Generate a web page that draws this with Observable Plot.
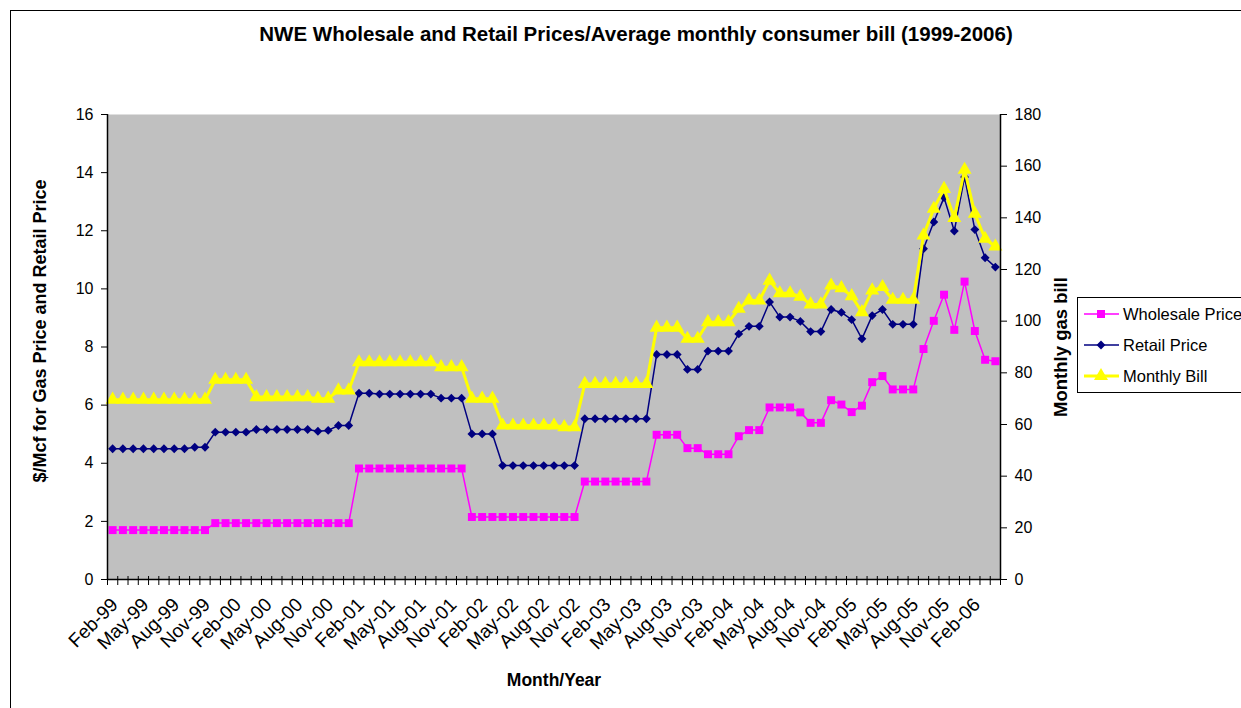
<!DOCTYPE html>
<html>
<head>
<meta charset="utf-8">
<script src="https://cdn.jsdelivr.net/npm/d3@7"></script>
<script src="https://cdn.jsdelivr.net/npm/@observablehq/plot@0.6"></script>
<style>
  html, body { margin: 0; padding: 0; background: #fff; overflow: hidden; }
  body { font-family: "Liberation Sans", Arial, sans-serif; width: 1241px; height: 708px; position: relative; }
  #box { position: absolute; left: 10px; top: 10px; width: 1300px; height: 760px; border: 1px solid #000; box-sizing: border-box; }
  #title { position: absolute; left: 0; top: 21px; width: 1272px; text-align: center; font-weight: bold; font-size: 20.5px; line-height: 26px; color: #000; white-space: nowrap; }
  #chart { position: absolute; left: 0; top: 60px; }
  #legend { position: absolute; left: 1077px; top: 297px; width: 300px; height: 96px; border: 1px solid #000; background: #fff; box-sizing: border-box; }
  .row { position: absolute; left: 5px; height: 20px; white-space: nowrap; }
  .row svg { position: absolute; left: 0; top: 0; }
  .row span { position: absolute; left: 40px; top: 0; font-size: 16.5px; line-height: 20px; color: #000; }
</style>
</head>
<body>
<div id="box"></div>
<div id="title"></div>
<div id="chart"></div>
<div id="legend"></div>
<script>
const chartTitle = "NWE Wholesale and Retail Prices/Average monthly consumer bill (1999-2006)";
const yLeftTitle = "$/Mcf for Gas Price and Retail Price";
const yRightTitle = "Monthly gas bill";
const xTitle = "Month/Year";
const seriesNames = ["Wholesale Price", "Retail Price", "Monthly Bill"];

const months = [
  "Feb-99","Mar-99","Apr-99","May-99","Jun-99","Jul-99","Aug-99","Sep-99","Oct-99","Nov-99","Dec-99",
  "Jan-00","Feb-00","Mar-00","Apr-00","May-00","Jun-00","Jul-00","Aug-00","Sep-00","Oct-00","Nov-00","Dec-00",
  "Jan-01","Feb-01","Mar-01","Apr-01","May-01","Jun-01","Jul-01","Aug-01","Sep-01","Oct-01","Nov-01","Dec-01",
  "Jan-02","Feb-02","Mar-02","Apr-02","May-02","Jun-02","Jul-02","Aug-02","Sep-02","Oct-02","Nov-02","Dec-02",
  "Jan-03","Feb-03","Mar-03","Apr-03","May-03","Jun-03","Jul-03","Aug-03","Sep-03","Oct-03","Nov-03","Dec-03",
  "Jan-04","Feb-04","Mar-04","Apr-04","May-04","Jun-04","Jul-04","Aug-04","Sep-04","Oct-04","Nov-04","Dec-04",
  "Jan-05","Feb-05","Mar-05","Apr-05","May-05","Jun-05","Jul-05","Aug-05","Sep-05","Oct-05","Nov-05","Dec-05",
  "Jan-06","Feb-06","Mar-06","Apr-06"
];

// $/Mcf
const wholesale = [
  1.70,1.70,1.70,1.70,1.70,1.70,1.70,1.70,1.70,1.70,
  1.94,1.94,1.94,1.94,1.94,1.94,1.94,1.94,1.94,1.94,1.94,1.94,1.94,1.94,
  3.82,3.82,3.82,3.82,3.82,3.82,3.82,3.82,3.82,3.82,3.82,
  2.15,2.15,2.15,2.15,2.15,2.15,2.15,2.15,2.15,2.15,2.15,
  3.37,3.37,3.37,3.37,3.37,3.37,3.37,
  4.98,4.98,4.98,4.52,4.52,4.31,4.31,4.31,4.93,5.14,5.14,
  5.92,5.92,5.92,5.75,5.39,5.39,6.17,6.02,5.76,5.98,6.79,7.00,
  6.54,6.54,6.54,7.93,8.90,9.80,8.59,10.25,8.55,7.56,7.51
];

// $/Mcf
const retail = [
  4.50,4.50,4.50,4.50,4.50,4.50,4.50,4.50,4.55,4.55,
  5.07,5.07,5.07,5.07,5.16,5.16,5.16,5.16,5.16,5.16,5.10,5.13,5.30,5.30,
  6.41,6.41,6.38,6.38,6.38,6.38,6.38,6.38,6.24,6.24,6.24,
  5.01,5.01,5.01,3.92,3.92,3.92,3.92,3.92,3.92,3.92,3.92,
  5.53,5.53,5.53,5.53,5.53,5.53,5.53,
  7.74,7.74,7.74,7.23,7.23,7.86,7.86,7.86,8.45,8.71,8.71,
  9.55,9.03,9.03,8.88,8.53,8.53,9.29,9.19,8.94,8.28,9.08,9.29,
  8.78,8.78,8.78,11.38,12.30,13.14,11.99,13.85,12.04,11.07,10.75
];

// $ per month (right axis)
const bill = [
  69.6,69.6,69.6,69.6,69.6,69.6,69.6,69.6,69.6,69.6,
  77.3,77.3,77.3,77.3,70.6,70.6,70.6,70.6,70.6,70.6,70.0,70.0,73.2,73.2,
  84.1,84.1,84.1,84.1,84.1,84.1,84.1,84.1,82.2,82.2,82.2,
  70.0,70.0,70.0,59.6,59.6,59.6,59.6,59.6,59.6,59.0,59.0,
  75.7,75.7,75.7,75.7,75.7,75.7,75.7,
  97.5,97.5,97.5,93.2,93.2,99.6,99.6,99.6,104.8,108.0,108.0,
  115.7,110.8,110.8,109.5,106.5,106.5,113.8,112.8,109.7,103.5,111.9,113.2,
  108.3,108.3,108.3,133.2,143.5,151.2,140.0,158.6,141.6,131.9,128.9
];

const leftTicks = [0, 2, 4, 6, 8, 10, 12, 14, 16];
const rightTicks = [0, 20, 40, 60, 80, 100, 120, 140, 160, 180];
const leftMax = 16, rightMax = 180;
const ratio = rightMax / leftMax;

const colors = { wholesale: "#FF00FF", retail: "#000080", bill: "#FFFF00" };
const FONT = '"Liberation Sans", Arial, sans-serif';

document.getElementById("title").textContent = chartTitle;

const data = months.map((m, i) => ({ i, m, w: wholesale[i], r: retail[i], b: bill[i] / ratio }));
const xDomain = [-0.5, months.length - 0.5];
const boundaries = d3.range(months.length + 1).map(k => k - 0.5);
const labelTicks = d3.range(0, months.length, 3);

const chart = Plot.plot({
  width: 1241,
  height: 648,
  marginLeft: 107,
  marginRight: 241,
  marginTop: 54,
  marginBottom: 129,
  style: { fontFamily: FONT, fontSize: "16px", background: "transparent", color: "#000", overflow: "visible" },
  x: { domain: xDomain, axis: null },
  y: { domain: [0, leftMax], axis: null },
  marks: [
    Plot.frame({ fill: "#C0C0C0", stroke: null }),
    Plot.lineY(data, { x: "i", y: "w", stroke: colors.wholesale, strokeWidth: 1.5 }),
    Plot.dot(data, { x: "i", y: "w", symbol: "square", r: 4.5, fill: colors.wholesale }),
    Plot.lineY(data, { x: "i", y: "r", stroke: colors.retail, strokeWidth: 1.5 }),
    Plot.dot(data, { x: "i", y: "r", symbol: "diamond2", r: 4, fill: colors.retail }),
    Plot.lineY(data, { x: "i", y: "b", stroke: colors.bill, strokeWidth: 3 }),
    Plot.dot(data, { x: "i", y: "b", symbol: "triangle", r: 5.2, fill: colors.bill }),
    Plot.ruleY([0], { stroke: "#000", strokeWidth: 1.5 }),
    Plot.ruleX(xDomain, { stroke: "#000", strokeWidth: 1.5 }),
    Plot.axisY({ anchor: "left", ticks: leftTicks, tickSize: 6, tickPadding: 8, label: null, fontSize: 16 }),
    Plot.axisY({ anchor: "right", ticks: rightTicks.map(v => v / ratio), tickFormat: v => String(Math.round(v * ratio)), tickSize: 6, tickPadding: 8, label: null, fontSize: 16 }),
    Plot.axisX({ ticks: boundaries, tickSize: 9, dy: -3, tickFormat: () => "", label: null }),
    Plot.axisX({ ticks: labelTicks, tickSize: 0, tickPadding: 22, dx: 2, tickRotate: -45, tickFormat: i => months[i], label: null, fontSize: 19 }),
    Plot.text([yLeftTitle], { text: d => d, frameAnchor: "left", textAnchor: "middle", lineAnchor: "middle", dx: -67, dy: -16, rotate: -90, fontWeight: "bold", fontSize: 18 }),
    Plot.text([yRightTitle], { text: d => d, frameAnchor: "right", textAnchor: "middle", lineAnchor: "middle", dx: 61, rotate: -90, fontWeight: "bold", fontSize: 18.5 }),
    Plot.text([xTitle], { text: d => d, frameAnchor: "bottom", textAnchor: "middle", lineAnchor: "middle", dy: 101, fontWeight: "bold", fontSize: 17.5 })
  ]
});
document.getElementById("chart").appendChild(chart);

// Legend
const legend = document.getElementById("legend");
const legendSpec = [
  { name: seriesNames[0], color: colors.wholesale, symbol: d3.symbolSquare, size: 4.5 * 4.5 * Math.PI, width: 1.5 },
  { name: seriesNames[1], color: colors.retail, symbol: d3.symbolDiamond2, size: 4 * 4 * Math.PI, width: 1.5 },
  { name: seriesNames[2], color: colors.bill, symbol: d3.symbolTriangle, size: 5.2 * 5.2 * Math.PI, width: 3 }
];
legendSpec.forEach((s, k) => {
  const row = document.createElement("div");
  row.className = "row";
  row.style.top = (6 + k * 31) + "px";
  const svg = d3.create("svg").attr("width", 36).attr("height", 20);
  svg.append("line").attr("x1", 1).attr("x2", 36).attr("y1", 10).attr("y2", 10)
    .attr("stroke", s.color).attr("stroke-width", s.width);
  svg.append("path").attr("d", d3.symbol(s.symbol, s.size)()).attr("transform", "translate(18,10)").attr("fill", s.color);
  row.appendChild(svg.node());
  const span = document.createElement("span");
  span.textContent = s.name;
  row.appendChild(span);
  legend.appendChild(row);
});
</script>
</body>
</html>
